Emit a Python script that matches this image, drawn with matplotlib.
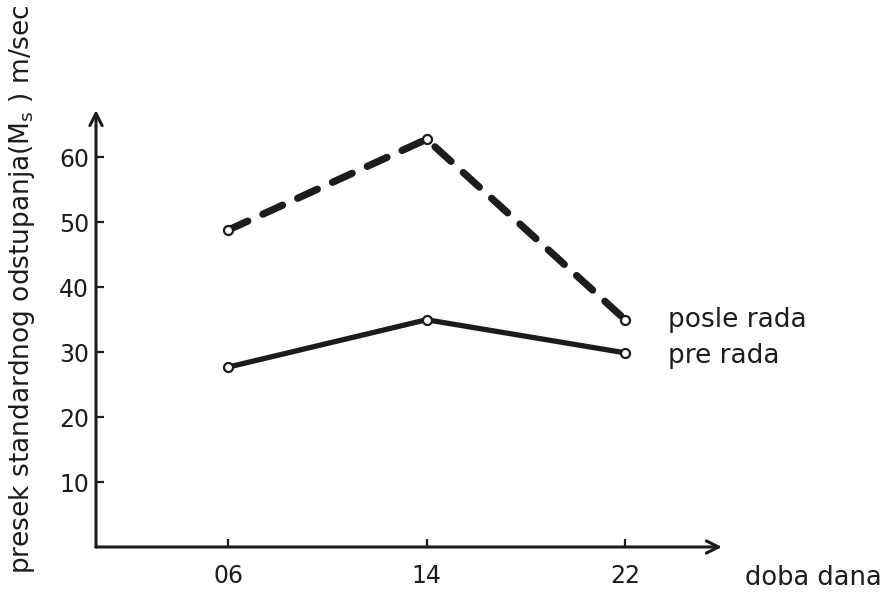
import numpy as np
import matplotlib.pyplot as plt

plt.rcParams['font.family'] = ['DejaVu Sans']
plt.rcParams['mathtext.default'] = 'regular'

# data
hours = [6, 14, 22]
hour_labels = ['06', '14', '22']
posle_rada = [48.8, 62.8, 35.0]
pre_rada = [27.7, 35.0, 29.9]
y_ticks = [10, 20, 30, 40, 50, 60]

ink = '#1c1c1c'

fig = plt.figure(figsize=(8.96, 5.99), dpi=100)
ax = fig.add_axes((96 / 896, 52 / 599, (722 - 96) / 896, (547 - 110) / 599))
ax.set_xlim(0.68, 25.9)
ax.set_ylim(0, 67.3)

for s in ax.spines.values():
    s.set_visible(False)

# axes drawn as arrows
for end in [(1, 0), (0, 1)]:
    ax.annotate('', xy=end, xytext=(0, 0), xycoords='axes fraction',
                arrowprops=dict(arrowstyle='->', lw=2.2, color=ink, mutation_scale=22,
                                shrinkA=0, shrinkB=0))

# lines
ax.plot(hours, posle_rada, color=ink, lw=5.2, dashes=(3.0, 2.3),
        dash_capstyle='round', zorder=3)
ax.plot(hours, pre_rada, color=ink, lw=3.8, solid_capstyle='round', zorder=3)
ax.plot(hours, posle_rada, 'o', ms=6.5, mfc='white', mec=ink, mew=1.6, zorder=4)
ax.plot(hours, pre_rada, 'o', ms=6.5, mfc='white', mec=ink, mew=1.6, zorder=4)

ax.annotate('posle rada', xy=(hours[-1], posle_rada[-1]), xytext=(31, 0),
            textcoords='offset points', va='center', ha='left', fontsize=19, color=ink)
ax.annotate('pre rada', xy=(hours[-1], pre_rada[-1]), xytext=(31, -2),
            textcoords='offset points', va='center', ha='left', fontsize=19, color=ink)

ax.set_xticks(hours)
ax.set_xticklabels(hour_labels)
ax.set_yticks(y_ticks)
ax.tick_params(axis='both', direction='in', length=6, width=1.6, color=ink,
               labelsize=17, labelcolor=ink)
ax.tick_params(axis='x', pad=12)
ax.tick_params(axis='y', pad=5)

fig.text(22 / 896, 1 - 289 / 599,
         'presek standardnog odstupanja(M$_{s}$ ) m/sec',
         rotation=90, ha='center', va='center', fontsize=19, color=ink)
fig.text(745 / 896, 1 - 578 / 599, 'doba dana', ha='left', va='center',
         fontsize=18.5, color=ink)

fig.savefig('out.png', dpi=100, facecolor='white')
